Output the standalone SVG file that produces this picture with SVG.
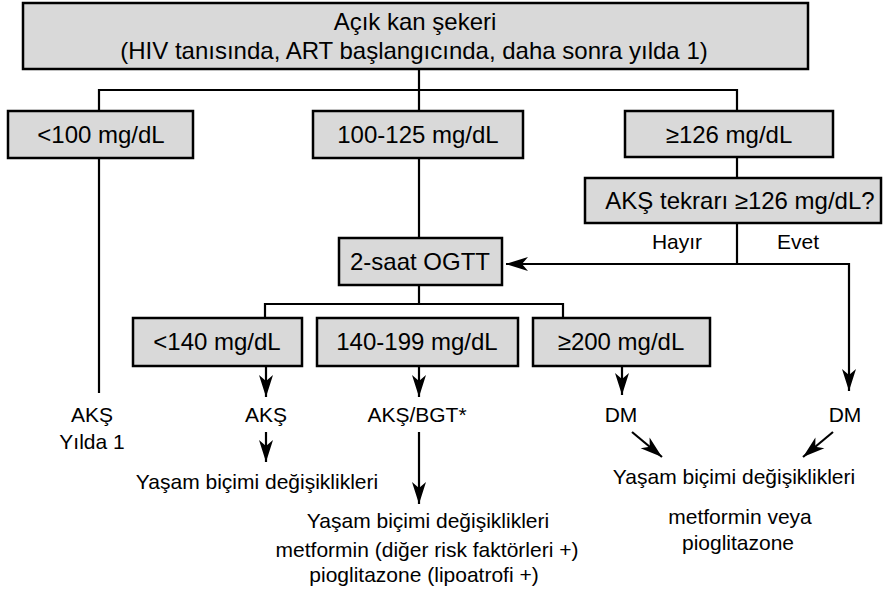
<svg xmlns="http://www.w3.org/2000/svg" width="883" height="594" viewBox="0 0 883 594">
<style>
.box{fill:#d9d9d9;stroke:#000;stroke-width:2.5}
.ln{fill:none;stroke:#000;stroke-width:2.2}
.ar{fill:none;stroke:#000;stroke-width:2.2;marker-end:url(#ah)}
text{font-family:"Liberation Sans",Arial,Helvetica,sans-serif;font-size:21px;fill:#000;text-anchor:middle}
.bt{font-size:24px}
</style>
<defs>
<marker id="ah" markerUnits="userSpaceOnUse" markerWidth="26" markerHeight="18" viewBox="-24 -9 26 18" refX="0" refY="0" orient="auto">
<path d="M0,0 L-22,-7 L-16,0 L-22,7 Z" fill="#000"/>
</marker>
</defs>
<rect width="883" height="594" fill="#fff"/>
<g id="connectors">
<path class="ln" d="M419,69 V90 M99,111 V90 H737 V111 M419,90 V111"/>
<path class="ln" d="M99,158 V393"/>
<path class="ln" d="M419,158 V238"/>
<path class="ln" d="M737,157 V178"/>
<path class="ln" d="M737,223 V264"/>
<path class="ar" d="M849,264 H506"/>
<path class="ar" d="M737,264 H849 V391"/>
<path class="ln" d="M419,285 V304 M265,318 V304 H563 V318"/>
<path class="ar" d="M266,366 V397"/>
<path class="ar" d="M419,366 V397"/>
<path class="ar" d="M622,366 V395"/>
<path class="ar" d="M266,432 V462"/>
<path class="ar" d="M419,432 V504"/>
<path class="ar" d="M632,432 L662,457"/>
<path class="ar" d="M833,432 L803,457"/>
</g>
<g id="top"><rect class="box" x="23" y="3" width="785" height="66"/><text class="bt" x="415" y="30">Açık kan şekeri</text><text class="bt" x="414" y="59">(HIV tanısında, ART başlangıcında, daha sonra yılda 1)</text></g>
<g id="n100"><rect class="box" x="8" y="111" width="185" height="47"/><text class="bt" x="101" y="143">&lt;100 mg/dL</text></g>
<g id="n100125"><rect class="box" x="313" y="111" width="210" height="47"/><text class="bt" x="418" y="143">100-125 mg/dL</text></g>
<g id="n126"><rect class="box" x="625" y="111" width="208" height="46"/><text class="bt" x="729" y="143">≥126 mg/dL</text></g>
<g id="tekrar"><rect class="box" x="585" y="178" width="296" height="45"/><text class="bt" x="740" y="209">AKŞ tekrarı ≥126 mg/dL?</text></g>
<g id="hayir"><text x="677" y="249">Hayır</text></g>
<g id="evet"><text x="798" y="249">Evet</text></g>
<g id="ogtt"><rect class="box" x="339" y="238" width="163" height="47"/><text class="bt" x="420" y="270">2-saat OGTT</text></g>
<g id="n140"><rect class="box" x="133" y="318" width="169" height="48"/><text class="bt" x="217" y="350">&lt;140 mg/dL</text></g>
<g id="n140199"><rect class="box" x="317" y="318" width="201" height="48"/><text class="bt" x="417" y="350">140-199 mg/dL</text></g>
<g id="n200"><rect class="box" x="533" y="318" width="177" height="48"/><text class="bt" x="621" y="350">≥200 mg/dL</text></g>
<g id="aks1"><text x="92" y="422">AKŞ</text><text x="92" y="449">Yılda 1</text></g>
<g id="aks2"><text x="266" y="422">AKŞ</text></g>
<g id="aksbgt"><text x="417" y="422">AKŞ/BGT*</text></g>
<g id="dm1"><text x="621" y="422">DM</text></g>
<g id="dm2"><text x="845" y="422">DM</text></g>
<g id="yasam1"><text x="257" y="489">Yaşam biçimi değişiklikleri</text></g>
<g id="tedavi1"><text x="428" y="528">Yaşam biçimi değişiklikleri</text><text x="427" y="557">metformin (diğer risk faktörleri +)</text><text x="424" y="582">pioglitazone (lipoatrofi +)</text></g>
<g id="tedavi2"><text x="734" y="484">Yaşam biçimi değişiklikleri</text><text x="740" y="524">metformin veya</text><text x="738" y="550">pioglitazone</text></g>
</svg>
